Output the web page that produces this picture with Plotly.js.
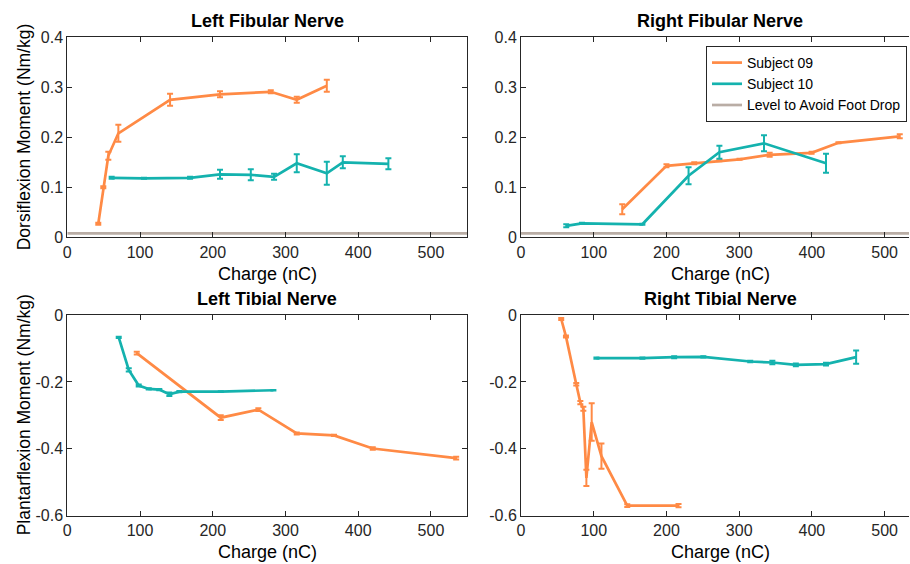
<!DOCTYPE html>
<html><head><meta charset="utf-8">
<script src="https://cdn.plot.ly/plotly-3.0.1.min.js"></script>
<style>html,body{margin:0;padding:0;background:#fff}</style>
</head><body><div id="chart" style="width:910px;height:564px"></div>
<script>
// ---- Data (Charge in nC, moment in Nm/kg) ----
const seriesNames = ["Subject 09", "Subject 10", "Level to Avoid Foot Drop"];
const panelTitles = ["Left Fibular Nerve", "Right Fibular Nerve", "Left Tibial Nerve", "Right Tibial Nerve"];
const xAxisLabel = "Charge (nC)";
const yLabelTop = "Dorsiflexion Moment (Nm/kg)";
const yLabelBottom = "Plantarflexion Moment (Nm/kg)";

const footDropLevel = 0.008;
const footDropX = [0, 550];

// Left Fibular
const lfX09 = [42.6, 49.5, 56.4, 70.2, 141.3, 210, 279.8, 315.5, 356.8];
const lfY09 = [0.027, 0.100, 0.163, 0.208, 0.275, 0.286, 0.291, 0.275, 0.303];
const lfE09 = [0.002, 0.002, 0.008, 0.017, 0.012, 0.006, 0.003, 0.006, 0.012];
const lfX10 = [61, 105.5, 168.8, 210, 252.3, 284.3, 315.5, 356.8, 378.8, 441.5];
const lfY10 = [0.119, 0.118, 0.119, 0.126, 0.125, 0.121, 0.148, 0.128, 0.150, 0.147];
const lfE10 = [0.002, 0.001, 0.002, 0.009, 0.011, 0.006, 0.018, 0.023, 0.012, 0.011];

// Right Fibular
const rfX09 = [139.2, 200, 238.2, 272.8, 300.5, 341.9, 399.5, 436.5, 520.8];
const rfY09 = [0.056, 0.143, 0.148, 0.153, 0.156, 0.165, 0.169, 0.189, 0.202];
const rfE09 = [0.010, 0.003, 0.002, 0.001, 0.001, 0.004, 0.002, 0.001, 0.004];
const rfX10 = [62.2, 83.9, 166.9, 230.4, 272.8, 334.1, 419.4];
const rfY10 = [0.023, 0.028, 0.026, 0.123, 0.170, 0.188, 0.148];
const rfE10 = [0.003, 0.001, 0.001, 0.017, 0.013, 0.016, 0.019];

// Left Tibial
const ltX09 = [95.5, 211, 262.7, 315.5, 366.8, 420, 534.7];
const ltY09 = [-0.114, -0.307, -0.283, -0.354, -0.360, -0.399, -0.428];
const ltE09 = [0.004, 0.007, 0.004, 0.003, 0.002, 0.004, 0.004];
const ltX10 = [70.7, 84.5, 98.2, 112, 126.5, 140.3, 154.1, 211, 283.4];
const ltY10 = [-0.067, -0.164, -0.211, -0.221, -0.223, -0.237, -0.229, -0.229, -0.225];
const ltE10 = [0.002, 0.005, 0.003, 0.002, 0.002, 0.005, 0.002, 0.001, 0.001];

// Right Tibial
const rtX09 = [55.3, 61.8, 76, 81.6, 85.7, 89.9, 97.2, 110.6, 146.1, 216.6];
const rtY09 = [-0.012, -0.064, -0.207, -0.262, -0.280, -0.487, -0.320, -0.422, -0.570, -0.570];
const rtE09 = [0.003, 0.003, 0.004, 0.005, 0.006, 0.024, 0.056, 0.038, 0.004, 0.005];
const rtX10 = [103.7, 166.9, 210.6, 250.7, 315.2, 345.6, 377.9, 419.4, 460.8];
const rtY10 = [-0.129, -0.129, -0.126, -0.125, -0.139, -0.142, -0.149, -0.147, -0.126];
const rtE10 = [0.002, 0.002, 0.003, 0.002, 0.002, 0.005, 0.004, 0.004, 0.020];

const xTickVals = [0, 100, 200, 300, 400, 500];
const yTopTickVals = [0, 0.1, 0.2, 0.3, 0.4];
const yBotTickVals = [-0.6, -0.4, -0.2, 0];
const yBotTickText = ["-0.6", "-0.4", "-0.2", "0"];

// ---- Styles ----
const C09 = "#FF8A45";
const C10 = "#14B2AE";
const CLEVEL = "#B9ADA5";
const AX = "#262626";
const FONT = "Liberation Sans, Arial, Helvetica, sans-serif";

function series(x, y, e, color, xa, ya, name, show, rank) {
  return {
    type: "scatter", mode: "lines", x: x, y: y, xaxis: xa, yaxis: ya,
    name: name, showlegend: show, legendrank: rank,
    line: {color: color, width: 2.7},
    error_y: {type: "data", array: e, visible: true, color: color, thickness: 2, width: 3}
  };
}
function level(xa, ya, show) {
  return {
    type: "scatter", mode: "lines", x: footDropX, y: footDropX.map(() => footDropLevel),
    xaxis: xa, yaxis: ya, name: seriesNames[2], showlegend: show, legendrank: 3,
    line: {color: CLEVEL, width: 2.7}
  };
}

const traces = [
  level("x", "y", false),
  series(lfX09, lfY09, lfE09, C09, "x", "y", seriesNames[0], false, 1),
  series(lfX10, lfY10, lfE10, C10, "x", "y", seriesNames[1], false, 2),
  level("x2", "y2", true),
  series(rfX09, rfY09, rfE09, C09, "x2", "y2", seriesNames[0], true, 1),
  series(rfX10, rfY10, rfE10, C10, "x2", "y2", seriesNames[1], true, 2),
  series(ltX09, ltY09, ltE09, C09, "x3", "y3", seriesNames[0], false, 1),
  series(ltX10, ltY10, ltE10, C10, "x3", "y3", seriesNames[1], false, 2),
  series(rtX09, rtY09, rtE09, C09, "x4", "y4", seriesNames[0], false, 1),
  series(rtX10, rtY10, rtE10, C10, "x4", "y4", seriesNames[1], false, 2)
];

const W = 910, H = 564;
const px = v => v / W;
const py = v => 1 - v / H;

function xax(d0, d1, range, anchor, mirror) {
  return {
    domain: [px(d0), px(d1)], range: range, anchor: anchor,
    tickvals: xTickVals, ticks: "inside", ticklen: 5, tickcolor: AX, tickwidth: 1,
    showline: true, linecolor: AX, linewidth: 1, mirror: mirror,
    showgrid: false, zeroline: false, fixedrange: true,
    tickfont: {family: FONT, size: 16, color: AX}
  };
}
function yax(d0, d1, range, anchor, vals, text, mirror) {
  const a = {
    domain: [py(d1), py(d0)], range: range, anchor: anchor,
    tickvals: vals, ticks: "inside", ticklen: 5, tickcolor: AX, tickwidth: 1,
    showline: true, linecolor: AX, linewidth: 1, mirror: mirror,
    showgrid: false, zeroline: false, fixedrange: true,
    tickfont: {family: FONT, size: 16, color: AX}
  };
  if (text) a.ticktext = text;
  return a;
}

const LX0 = 67.3, LX1 = 467.3, RX0 = 521, RX1 = 909;
const TY0 = 37.3, TY1 = 237.3, BY0 = 315, BY1 = 515.7;
const rightMax = (RX1 - RX0) / ((LX1 - LX0) / 550);

const annotations = [];
function ann(text, x, y, opts) {
  annotations.push(Object.assign({
    text: text, x: px(x), y: py(y), xref: "paper", yref: "paper",
    xanchor: "center", yanchor: "middle", showarrow: false,
    font: {family: FONT, size: 18, color: "#000"}
  }, opts || {}));
}
ann(panelTitles[0], (LX0 + LX1) / 2, 21, {text: "<b>" + panelTitles[0] + "</b>"});
ann(panelTitles[1], 720, 21, {text: "<b>" + panelTitles[1] + "</b>"});
ann(panelTitles[2], (LX0 + LX1) / 2, 299, {text: "<b>" + panelTitles[2] + "</b>"});
ann(panelTitles[3], 720, 299, {text: "<b>" + panelTitles[3] + "</b>"});
ann(xAxisLabel, (LX0 + LX1) / 2, 274);
ann(xAxisLabel, 720, 274);
ann(xAxisLabel, (LX0 + LX1) / 2, 552);
ann(xAxisLabel, 720, 552);
ann(yLabelTop, 24, (TY0 + TY1) / 2, {textangle: -90, font: {family: FONT, size: 17.5, color: "#000"}});
ann(yLabelBottom, 24, (BY0 + BY1) / 2, {textangle: -90, font: {family: FONT, size: 17.5, color: "#000"}});

const layout = {
  width: W, height: H,
  margin: {l: 0, r: 0, t: 0, b: 0, pad: 0},
  paper_bgcolor: "#fff", plot_bgcolor: "#fff",
  font: {family: FONT, color: AX},
  xaxis: xax(LX0, LX1, [0, 550], "y", "ticks"),
  yaxis: yax(TY0, TY1, [0, 0.4], "x", yTopTickVals, null, "ticks"),
  xaxis2: xax(RX0, RX1, [0, rightMax], "y2", "ticks"),
  yaxis2: yax(TY0, TY1, [0, 0.4], "x2", yTopTickVals, null, false),
  xaxis3: xax(LX0, LX1, [0, 550], "y3", "ticks"),
  yaxis3: yax(BY0, BY1, [-0.6, 0], "x3", yBotTickVals, yBotTickText, "ticks"),
  xaxis4: xax(RX0, RX1, [0, rightMax], "y4", "ticks"),
  yaxis4: yax(BY0, BY1, [-0.6, 0], "x4", yBotTickVals, yBotTickText, false),
  showlegend: true,
  legend: {
    x: px(907), y: py(46), xanchor: "right", yanchor: "top",
    bgcolor: "#fff", bordercolor: AX, borderwidth: 1,
    font: {family: FONT, size: 14, color: "#000"},
    tracegroupgap: 0, itemclick: false, itemdoubleclick: false
  },
  annotations: annotations
};

Plotly.newPlot("chart", traces, layout, {staticPlot: true, displayModeBar: false});
</script></body></html>
